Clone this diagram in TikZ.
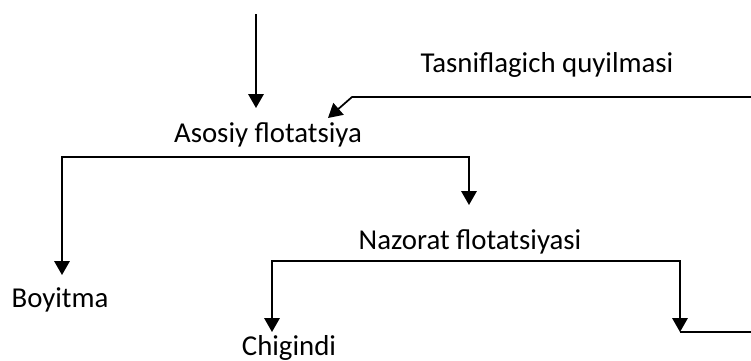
\documentclass[tikz,border=0pt]{standalone}
\usepackage{fontspec}
\setmainfont{Carlito}
\usetikzlibrary{arrows.meta, positioning, calc}

\begin{document}
\begin{tikzpicture}[
		x=0.02cm, y=-0.02cm,
		>={Triangle[length=2.8mm, width=3.1mm]},
		lbl/.style={font=\fontsize{16.4}{19}\selectfont, inner sep=0pt, anchor=base},
		flow/.style={->, line width=1pt},
		pipe/.style={line width=1pt}
		]
		\useasboundingbox (0,0) rectangle (751,360);
		
		%--- stages ----------------------------------------------------------------
		\node[lbl] (asosiy) at (268,142) {Asosiy flotatsiya};
		\node[lbl] (nazorat) at (470,249) {Nazorat flotatsiyasi};
		\node[lbl] (tasnif) at (547,72) {Tasniflagich quyilmasi};
		
		%--- products --------------------------------------------------------------
		\node[lbl] (boyitma) at (60,307) {Boyitma};
		\node[lbl] (chigindi) at (289,355) {Chigindi};
		
		%--- junction points -------------------------------------------------------
		\coordinate (feed) at (256,14);
		\coordinate (feedtip) at (256,108);
		\coordinate (s1l) at (62,157);
		\coordinate (s1r) at (469,157);
		\coordinate (s1ltip) at (62,275);
		\coordinate (s1rtip) at (469,205);
		\coordinate (s2l) at (272,261);
		\coordinate (s2r) at (680,261);
		\coordinate (s2ltip) at (272,332);
		\coordinate (s2rtip) at (680,332);
		\coordinate (outlo) at (751,332);
		\coordinate (outhi) at (751,97);
		\coordinate (bend) at (352,97);
		\coordinate (backtip) at (328,118);
		
		%--- feed into the main stage ----------------------------------------------
		\draw[flow] (feed) -- (feedtip);
		
		%--- main stage split ------------------------------------------------------
		\draw[flow] (s1r) -- (s1l) -- (s1ltip);
		\draw[flow] (s1l) -- (s1r) -- (s1rtip);
		
		%--- control stage split ---------------------------------------------------
		\draw[flow] (s2r) -- (s2l) -- (s2ltip);
		\draw[flow] (s2l) -- (s2r) -- (s2rtip);
		
		%--- recycle back ----------------------------------------------------------
		\draw[pipe] (s2rtip) -- (outlo);
		\draw[flow] (outhi) -- (bend) -- (backtip);
	\end{tikzpicture}
\end{document}
